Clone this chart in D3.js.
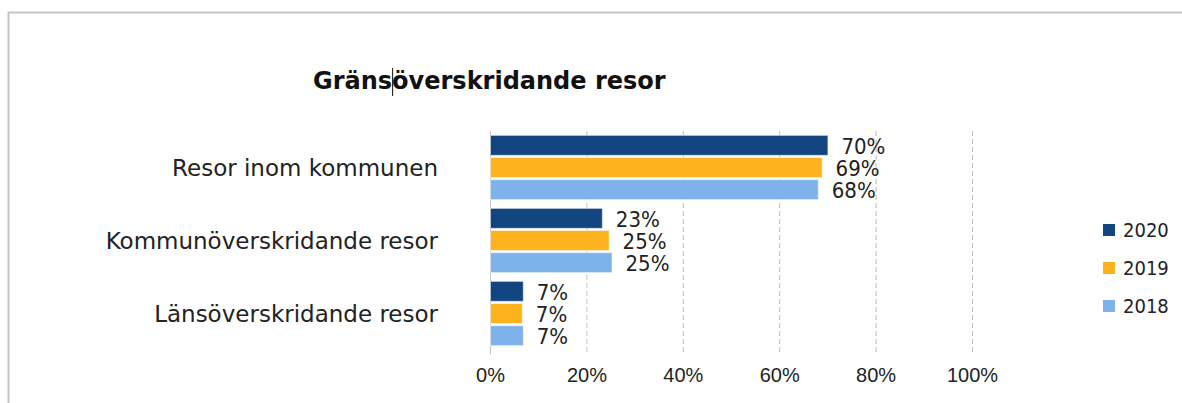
<!DOCTYPE html>
<html>
<head>
<meta charset="utf-8">
<script src="https://cdn.jsdelivr.net/npm/d3@7"></script>
<style>
  body { margin: 0; background: #fff; }
  svg { display: block; font-family: "DejaVu Sans Condensed", "DejaVu Sans", Verdana, sans-serif; font-stretch: condensed; }
  .wide { font-family: "DejaVu Sans", Verdana, sans-serif; font-stretch: normal; }
</style>
</head>
<body>
<div id="chart-area"></div>
<script>
const SVG_WIDTH = 1182
const SVG_HEIGHT = 403

const categories = ["Resor inom kommunen", "Kommunöverskridande resor", "Länsöverskridande resor"]
const years = ["2020", "2019", "2018"]
const values2020 = [0.70, 0.232, 0.068]
const values2019 = [0.688, 0.246, 0.066]
const values2018 = [0.68, 0.252, 0.068]
const tickValues = [0, 0.2, 0.4, 0.6, 0.8, 1]
const colors = ["#134580", "#fdb21e", "#7eb2ea"]

const series = [values2020, values2019, values2018]
const data = categories.map((c, i) => ({
  category: c,
  values: years.map((y, j) => ({ year: y, value: series[j][i] }))
}))

const svg = d3.select("#chart-area").append("svg")
  .attr("width", SVG_WIDTH)
  .attr("height", SVG_HEIGHT)

// frame
svg.append("path")
  .attr("d", "M8.5,403 V12.5 H1182")
  .attr("fill", "none")
  .attr("stroke", "#c6c6c6")
  .attr("stroke-width", 2)

// title
const title = svg.append("text")
  .attr("class", "wide")
  .attr("x", 313)
  .attr("y", 89)
  .attr("font-size", "24px")
  .attr("font-weight", "bold")
  .attr("fill", "#111")
  .text("Gränsöverskridande resor")

// text cursor left in the title
const caretX = 313 + title.node().getSubStringLength(0, 5)
svg.append("line")
  .attr("x1", caretX + 0.5)
  .attr("x2", caretX + 0.5)
  .attr("y1", 68)
  .attr("y2", 96)
  .attr("stroke", "#111")
  .attr("stroke-width", 1)

const x = d3.scaleLinear()
  .domain([0, 1])
  .range([490, 972])

const y = d3.scaleBand()
  .domain(categories)
  .range([131, 350])
  .paddingInner(0.12)
  .paddingOuter(0.06)

const ySub = d3.scaleBand()
  .domain(years)
  .range([0, y.bandwidth()])
  .paddingInner(0.1)

const color = d3.scaleOrdinal().domain(years).range(colors)

// gridlines
svg.append("g")
  .selectAll("line")
  .data(tickValues)
  .enter().append("line")
  .attr("x1", d => x(d) + 0.5)
  .attr("x2", d => x(d) + 0.5)
  .attr("y1", 131)
  .attr("y2", 354)
  .attr("stroke", d => d === 0 ? "#c4c4c4" : "#bdbdbd")
  .attr("stroke-dasharray", d => d === 0 ? null : "5,3")

// x tick labels
const xAxisCall = d3.axisBottom(x)
  .tickValues(tickValues)
  .tickFormat(d3.format(".0%"))
  .tickSize(0)
  .tickPadding(0)

const xAxis = svg.append("g")
  .attr("transform", "translate(0, 368)")
  .call(xAxisCall)
xAxis.select(".domain").remove()
xAxis.selectAll("text")
  .attr("font-size", "20px")
  .attr("font-family", null)
  .attr("fill", "#222")

// category labels
svg.append("g")
  .selectAll("text")
  .data(categories)
  .enter().append("text")
  .attr("class", "wide")
  .attr("x", 438)
  .attr("y", d => y(d) + y.bandwidth() / 2)
  .attr("dy", "0.35em")
  .attr("text-anchor", "end")
  .attr("font-size", "23px")
  .attr("fill", "#222")
  .text(d => d)

// bars
const groups = svg.append("g")
  .selectAll("g")
  .data(data)
  .enter().append("g")
  .attr("transform", d => `translate(0, ${y(d.category)})`)

groups.selectAll("rect")
  .data(d => d.values)
  .enter().append("rect")
  .attr("x", x(0) + 0.5)
  .attr("y", d => ySub(d.year))
  .attr("width", d => x(d.value) - x(0))
  .attr("height", ySub.bandwidth())
  .attr("fill", d => color(d.year))
  .attr("stroke", "rgba(255,255,255,0.5)")
  .attr("stroke-width", 1)

groups.selectAll("text")
  .data(d => d.values)
  .enter().append("text")
  .attr("x", d => x(d.value) + 14)
  .attr("y", d => ySub(d.year) + ySub.bandwidth() / 2)
  .attr("dy", "0.38em")
  .attr("font-size", "22px")
  .attr("fill", "#222")
  .text(d => d3.format(".0%")(d.value))

// legend
const legend = svg.append("g")
  .selectAll("g")
  .data(years)
  .enter().append("g")
  .attr("transform", (d, i) => `translate(1103, ${224 + i * 38})`)

legend.append("rect")
  .attr("width", 12)
  .attr("height", 12)
  .attr("fill", d => color(d))

legend.append("text")
  .attr("x", 20)
  .attr("y", 6)
  .attr("dy", "0.36em")
  .attr("font-size", "20px")
  .attr("fill", "#222")
  .text(d => d)
</script>
</body>
</html>
